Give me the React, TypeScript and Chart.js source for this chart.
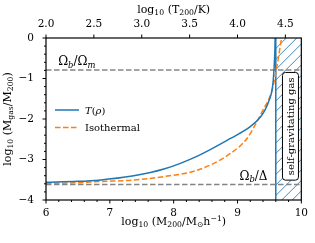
import React, { useEffect, useRef } from "react";
import { Chart, registerables } from "chart.js";

Chart.register(...registerables);

// ---- data ----
const massTicks = [6, 7, 8, 9, 10];
const tempTicks = [2.0, 2.5, 3.0, 3.5, 4.0, 4.5];
const fracTicks = [-4, -3, -2, -1, 0];
const massRange = [6, 10];
const tempRange = [2.0, 2.0 + (4 * 2) / 3];
const fracRange = [-4, 0];
const minorStep = 0.2;

const tRhoMass = [6.0, 6.5, 6.83, 7.35, 7.86, 8.38, 8.89, 9.2, 9.36, 9.44, 9.5, 9.54, 9.56, 9.575, 9.585, 9.59];
const tRhoFrac = [-3.56, -3.54, -3.51, -3.41, -3.23, -2.91, -2.48, -2.19, -1.95, -1.75, -1.52, -1.3, -1.05, -0.7, -0.35, 0.0];

const isoMass = [6.0, 6.5, 6.83, 7.35, 7.86, 8.38, 8.89, 9.15, 9.31, 9.41, 9.48, 9.53, 9.57, 9.61, 9.65, 9.69];
const isoFrac = [-3.59, -3.575, -3.545, -3.51, -3.42, -3.26, -2.85, -2.48, -2.05, -1.75, -1.55, -1.35, -1.1, -0.77, -0.4, 0.0];

const refSpan = [6, 10];
const omegaMatterLevel = -0.79;
const omegaDeltaLevel = -3.62;
const selfGravSpan = [9.6, 10];

const seriesLabels = ["T(ρ)", "Isothermal"];
const boxLabel = "self-gravitating gas";

// ---- style ----
const BLUE = "#1f77b4";
const ORANGE = "#ff7f0e";
const GRAY = "#858585";
const SERIF = '"DejaVu Serif", serif';

type Seg = { t: string; s?: "sub" | "sup"; i?: boolean };

function drawRich(ctx: CanvasRenderingContext2D, segs: Seg[], x: number, y: number, size: number, align: "left" | "center" | "right") {
  const parts = segs.map((s) => {
    const sz = s.s ? size * 0.7 : size;
    const font = `${s.i ? "italic " : ""}${sz}px ${SERIF}`;
    ctx.font = font;
    const w = ctx.measureText(s.t).width;
    const dy = s.s === "sub" ? size * 0.22 : s.s === "sup" ? -size * 0.4 : 0;
    return { ...s, font, w, dy };
  });
  const total = parts.reduce((a, p) => a + p.w, 0);
  let cx = align === "left" ? x : align === "center" ? x - total / 2 : x - total;
  ctx.textAlign = "left";
  ctx.textBaseline = "alphabetic";
  for (const p of parts) {
    ctx.font = p.font;
    ctx.fillText(p.t, cx, y + p.dy);
    cx += p.w;
  }
}

const decor = {
  id: "decor",
  beforeDatasetsDraw(chart: any) {
    const { ctx, chartArea: a, scales } = chart;
    const x = scales.x;
    const x0 = x.getPixelForValue(selfGravSpan[0]);
    const x1 = x.getPixelForValue(selfGravSpan[1]);
    const H = a.bottom - a.top;
    ctx.save();
    ctx.beginPath();
    ctx.rect(x0, a.top, x1 - x0, H);
    ctx.clip();
    ctx.strokeStyle = BLUE;
    ctx.globalAlpha = 0.85;
    ctx.lineWidth = 1;
    const sp = 10.5;
    for (let k = x0 - H - sp; k < x1 + sp; k += sp) {
      ctx.beginPath();
      ctx.moveTo(k, a.bottom);
      ctx.lineTo(k + H, a.top);
      ctx.stroke();
    }
    ctx.restore();
    ctx.save();
    ctx.strokeStyle = BLUE;
    ctx.lineWidth = 1.5;
    ctx.beginPath();
    ctx.moveTo(x0, a.top);
    ctx.lineTo(x0, a.bottom);
    ctx.stroke();
    ctx.restore();
  },
  afterDatasetsDraw(chart: any) {
    const { ctx, chartArea: a, scales } = chart;
    const x = scales.x;
    const y = scales.y;
    const x2 = scales.x2;
    ctx.save();
    ctx.fillStyle = "#000";

    // reference labels
    drawRich(ctx, [{ t: "Ω" }, { t: "b", s: "sub", i: true }, { t: "/Ω" }, { t: "m", s: "sub", i: true }],
      x.getPixelForValue(6.19), y.getPixelForValue(omegaMatterLevel) - 5, 12, "left");
    drawRich(ctx, [{ t: "Ω" }, { t: "b", s: "sub", i: true }, { t: "/Δ" }],
      x.getPixelForValue(9.47), y.getPixelForValue(omegaDeltaLevel) - 5, 12, "right");

    // legend
    const ds = chart.data.datasets;
    const lx = a.left + 9;
    const ly0 = a.top + 72;
    [0, 1].forEach((i) => {
      const yy = ly0 + i * 17.5;
      ctx.save();
      ctx.strokeStyle = ds[i].borderColor;
      ctx.lineWidth = 1.5;
      ctx.setLineDash(ds[i].borderDash || []);
      ctx.beginPath();
      ctx.moveTo(lx, yy);
      ctx.lineTo(lx + 24, yy);
      ctx.stroke();
      ctx.restore();
      const segs: Seg[] = i === 0
        ? [{ t: "T", i: true }, { t: "(" }, { t: "ρ", i: true }, { t: ")" }]
        : [{ t: ds[i].label }];
      drawRich(ctx, segs, lx + 30, yy + 3.5, 10, "left");
    });

    // text box
    const bx = x.getPixelForValue(9.83);
    const by = y.getPixelForValue(-2.18);
    ctx.font = `10px ${SERIF}`;
    const tw = ctx.measureText(boxLabel).width;
    const bw = 16;
    const bh = tw + 10;
    ctx.save();
    ctx.translate(bx, by);
    ctx.rotate(-Math.PI / 2);
    ctx.beginPath();
    (ctx as any).roundRect(-bh / 2, -bw / 2, bh, bw, 3);
    ctx.fillStyle = "#fff";
    ctx.fill();
    ctx.strokeStyle = "#000";
    ctx.lineWidth = 1;
    ctx.stroke();
    ctx.fillStyle = "#000";
    ctx.textAlign = "center";
    ctx.textBaseline = "middle";
    ctx.fillText(boxLabel, 0, 0.5);
    ctx.restore();

    // frame
    ctx.strokeStyle = "#000";
    ctx.lineWidth = 1.2;
    ctx.strokeRect(a.left, a.top, a.right - a.left, a.bottom - a.top);

    // ticks
    ctx.lineWidth = 1;
    const nX = Math.round((massRange[1] - massRange[0]) / minorStep);
    for (let i = 0; i <= nX; i++) {
      const v = massRange[0] + i * minorStep;
      const px = x.getPixelForValue(v);
      const len = i % 5 === 0 ? 3.5 : 2;
      ctx.beginPath();
      ctx.moveTo(px, a.bottom);
      ctx.lineTo(px, a.bottom + len);
      ctx.stroke();
    }
    const nY = Math.round((fracRange[1] - fracRange[0]) / minorStep);
    for (let i = 0; i <= nY; i++) {
      const v = fracRange[0] + i * minorStep;
      const py = y.getPixelForValue(v);
      const len = i % 5 === 0 ? 3.5 : 2;
      ctx.beginPath();
      ctx.moveTo(a.left, py);
      ctx.lineTo(a.left - len, py);
      ctx.stroke();
    }
    tempTicks.forEach((v) => {
      const px = x2.getPixelForValue(v);
      ctx.beginPath();
      ctx.moveTo(px, a.top);
      ctx.lineTo(px, a.top - 3.5);
      ctx.stroke();
    });

    // axis titles
    const cxm = (a.left + a.right) / 2;
    drawRich(ctx, [{ t: "log" }, { t: "10", s: "sub" }, { t: " (M" }, { t: "200", s: "sub" }, { t: "/M" }, { t: "⊙", s: "sub" }, { t: "h" }, { t: "−1", s: "sup" }, { t: ")" }],
      cxm, 225, 11, "center");
    drawRich(ctx, [{ t: "log" }, { t: "10", s: "sub" }, { t: " (T" }, { t: "200", s: "sub" }, { t: "/K)" }],
      cxm, 13, 11, "center");
    ctx.save();
    ctx.translate(11, (a.top + a.bottom) / 2);
    ctx.rotate(-Math.PI / 2);
    drawRich(ctx, [{ t: "log" }, { t: "10", s: "sub" }, { t: " (M" }, { t: "gas", s: "sub" }, { t: "/M" }, { t: "200", s: "sub" }, { t: ")" }],
      0, 0, 11, "center");
    ctx.restore();
    ctx.restore();
  },
};

function fmtMinus(v: number, digits = 0) {
  const s = Math.abs(v).toFixed(digits);
  return v < 0 ? "−" + s : s;
}

export default function App() {
  const ref = useRef<HTMLCanvasElement | null>(null);
  useEffect(() => {
    if (!ref.current) return;
    const tickFont = { family: SERIF, size: 10.5 };
    const chart = new Chart(ref.current, {
      type: "scatter",
      data: {
        datasets: [
          {
            label: seriesLabels[0],
            data: tRhoMass.map((m, i) => ({ x: m, y: tRhoFrac[i] })),
            showLine: true,
            borderColor: BLUE,
            borderWidth: 1.5,
            pointRadius: 0,
            cubicInterpolationMode: "monotone",
          },
          {
            label: seriesLabels[1],
            data: isoMass.map((m, i) => ({ x: m, y: isoFrac[i] })),
            showLine: true,
            borderColor: ORANGE,
            borderDash: [5.5, 2.5],
            borderWidth: 1.5,
            pointRadius: 0,
            cubicInterpolationMode: "monotone",
          },
          {
            label: "Ωb/Ωm",
            data: refSpan.map((m) => ({ x: m, y: omegaMatterLevel })),
            showLine: true,
            borderColor: GRAY,
            borderDash: [5.5, 2.5],
            borderWidth: 1.5,
            pointRadius: 0,
          },
          {
            label: "Ωb/Δ",
            data: refSpan.map((m) => ({ x: m, y: omegaDeltaLevel })),
            showLine: true,
            borderColor: GRAY,
            borderDash: [5.5, 2.5],
            borderWidth: 1.5,
            pointRadius: 0,
          },
        ],
      },
      options: {
        animation: false,
        responsive: false,
        maintainAspectRatio: false,
        devicePixelRatio: 1,
        layout: { padding: { left: 0, right: 10, top: 0, bottom: 0 } },
        plugins: { legend: { display: false }, tooltip: { enabled: false } },
        scales: {
          x: {
            type: "linear",
            position: "bottom",
            min: massRange[0],
            max: massRange[1],
            grid: { display: false, drawTicks: false, tickLength: 0 },
            border: { display: false },
            afterBuildTicks: (s: any) => { s.ticks = massTicks.map((v) => ({ value: v })); },
            afterFit: (s: any) => { s.height = 43; },
            ticks: { font: tickFont, color: "#000", padding: 7, maxRotation: 0, autoSkip: false, callback: (v: any) => String(v) },
          },
          x2: {
            type: "linear",
            position: "top",
            min: tempRange[0],
            max: tempRange[1],
            grid: { display: false, drawTicks: false, tickLength: 0 },
            border: { display: false },
            afterBuildTicks: (s: any) => { s.ticks = tempTicks.map((v) => ({ value: v })); },
            afterFit: (s: any) => { s.height = 38; },
            ticks: { font: tickFont, color: "#000", padding: 7, maxRotation: 0, autoSkip: false, callback: (v: any) => Number(v).toFixed(1) },
          },
          y: {
            type: "linear",
            min: fracRange[0],
            max: fracRange[1],
            grid: { display: false, drawTicks: false, tickLength: 0 },
            border: { display: false },
            afterBuildTicks: (s: any) => { s.ticks = fracTicks.map((v) => ({ value: v })); },
            afterFit: (s: any) => { s.width = 46; },
            ticks: { font: tickFont, color: "#000", padding: 12, autoSkip: false, callback: (v: any) => fmtMinus(Number(v)) },
          },
        },
      },
      plugins: [decor],
    } as any);
    return () => chart.destroy();
  }, []);
  return (
    <div style={{ position: "fixed", left: 0, top: 0, width: 315, height: 243, background: "#fff" }}>
      <canvas ref={ref} width={315} height={243} style={{ display: "block" }} />
    </div>
  );
}
